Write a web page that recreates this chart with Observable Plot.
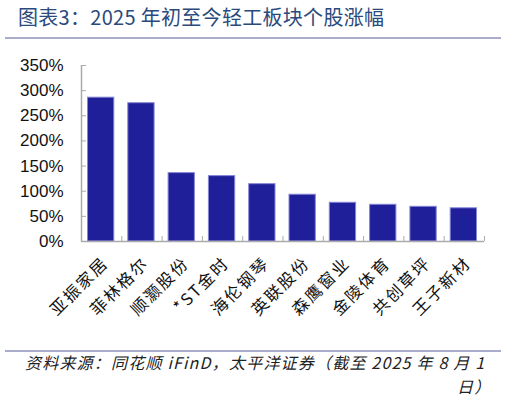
<!DOCTYPE html>
<html><head><meta charset="utf-8">
<script src="https://cdn.jsdelivr.net/npm/d3@7"></script>
<script src="https://cdn.jsdelivr.net/npm/@observablehq/plot@0.6"></script>
<style>
html,body{margin:0;padding:0;background:#fff;}
#wrap{position:relative;width:507px;height:399px;overflow:hidden;font-family:"Noto Sans CJK SC",sans-serif;}
#title{position:absolute;left:18px;top:2px;font-size:20px;color:#2a4a7c;white-space:nowrap;letter-spacing:0.3px;}
.rule{position:absolute;left:5px;width:496px;height:2px;background:#aaaccc;}
#chart{position:absolute;left:0;top:0;}
#chart g[aria-label="text"] text{letter-spacing:2px;}
.src{position:absolute;font-size:16px;line-height:18px;font-style:italic;color:#222;white-space:nowrap;letter-spacing:1.2px;}
</style></head>
<body><div id="wrap">
<div id="title">图表3：2025 年初至今轻工板块个股涨幅</div>
<div class="rule" style="top:37px"></div>
<div id="chart"></div>
<div class="rule" style="top:350px"></div>
<div class="src" style="left:25px;top:353px">资料来源：同花顺 iFinD，太平洋证券（截至 2025 年 8 月 1</div>
<div class="src" style="left:457px;top:377px">日）</div>
</div>
<script>
const names = ["亚振家居","菲林格尔","顺灏股份","*ST金时","海伦钢琴","英联股份","森鹰窗业","金陵体育","共创草坪","王子新材"];
const values = [286, 275, 136, 130, 114, 93, 77, 73, 69, 66];
const yTicks = [0, 50, 100, 150, 200, 250, 300, 350];

const data = names.map((n, i) => ({name: n, value: values[i], i}));

const plot = Plot.plot({
  width: 507,
  height: 345,
  marginLeft: 81,
  marginRight: 23,
  marginTop: 65,
  marginBottom: 104,
  style: {background: "transparent", overflow: "visible"},
  x: {domain: [0, names.length], axis: null},
  y: {domain: [0, 350], axis: null},
  marks: [
    Plot.rectY(data, {x1: "i", x2: d => d.i + 1, y: "value", insetLeft: 6.5, insetRight: 7.5, fill: "#1f1f99", stroke: "#8585d6", strokeWidth: 1}),
    Plot.ruleX([0], {stroke: "#aaaaaa", strokeWidth: 1.5}),
    Plot.ruleY([0], {stroke: "#aaaaaa", strokeWidth: 1.5}),
    Plot.axisY({ticks: yTicks, tickSize: -5, tickFormat: () => "", label: null, stroke: "#aaaaaa"}),
    Plot.axisY({ticks: yTicks, tickSize: 0, tickPadding: 18, tickFormat: d => d + "%", label: null, fontSize: 17, fontFamily: "Liberation Sans, Arial, sans-serif", fill: "#111"}),
    Plot.axisX({ticks: d3.range(1, names.length + 1), tickSize: -5, tickFormat: () => "", label: null, stroke: "#aaaaaa"}),
    Plot.text(data, {x: d => d.i + 0.5, y: 0, text: "name", rotate: -45, textAnchor: "end", dy: 19, dx: 4, fontSize: 16.5, fontFamily: "Noto Sans CJK SC", fill: "#111"})
  ]
});
document.getElementById("chart").appendChild(plot);
</script>
</body></html>
